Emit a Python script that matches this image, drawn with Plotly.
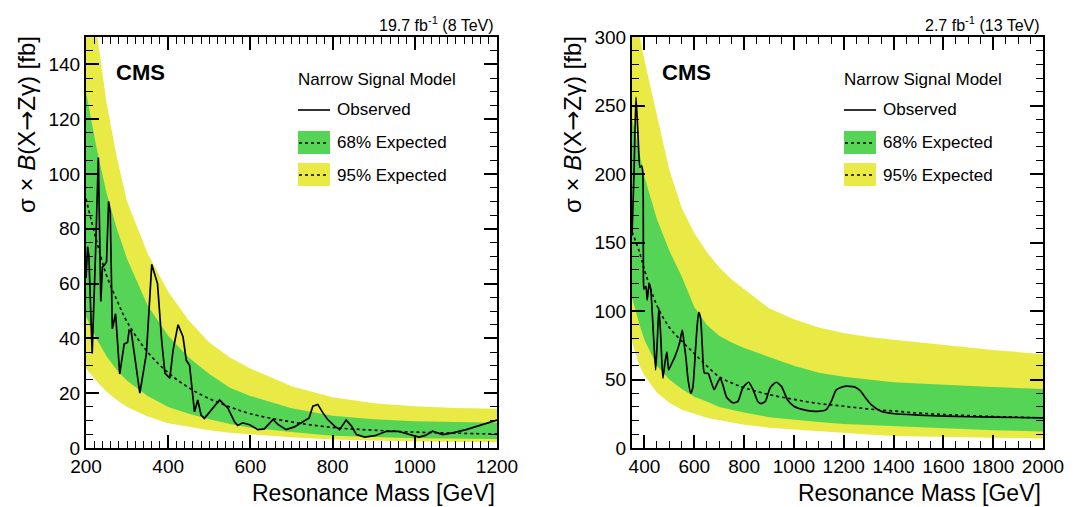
import plotly.graph_objects as go

# ---------------- data: left panel (8 TeV) ----------------
band8_m = [200, 225, 250, 275, 300, 350, 400, 450, 500, 550, 600, 700, 800, 900, 1000, 1100, 1200]
band8_y_up = [180, 152, 126, 106, 90, 71, 57, 46.5, 38.5, 33, 29, 22.5, 18.5, 16.3, 15.2, 14.6, 14.3]
band8_g_up = [130, 110, 93, 80, 69, 52, 41, 33, 27, 22, 19, 14.5, 11.8, 10.5, 9.8, 9.4, 9.2]
exp8 = [91, 76, 63, 54, 46, 35, 27.5, 22, 18, 15, 12.5, 9.5, 7.5, 6.5, 5.8, 5.4, 5.1]
band8_g_lo = [48, 40, 33.5, 28.5, 24.5, 19, 15, 12.5, 10.5, 8.8, 7.4, 5.8, 4.5, 4.0, 3.6, 3.4, 3.3]
band8_y_lo = [29, 24.5, 20.5, 17.5, 15, 11.5, 9, 7.8, 6.5, 5.6, 4.9, 3.9, 3.1, 2.7, 2.4, 2.2, 2.1]

obs8_m = [200, 204, 207, 215, 223, 230, 236, 240, 246, 250, 255, 259, 264, 272, 282,
          293, 301, 305, 310, 331, 347, 360, 374, 384, 392, 404, 412, 424, 436, 444,
          452, 464, 472, 480, 488, 525, 545, 561, 569, 581, 598, 618, 634, 655, 667,
          687, 707, 723, 743, 752, 764, 776, 788, 805, 817, 833, 846, 858, 878, 903,
          931, 959, 985, 1010, 1026, 1043, 1068, 1092, 1125, 1165, 1197, 1200]
obs8 = [62, 73.5, 70, 34.5, 70, 106, 53.5, 66, 67, 68, 90, 86, 43.5, 49, 27,
        38, 38.5, 43, 42.5, 20, 34.5, 67, 60, 39.4, 27.3, 25.5, 35.8, 45, 40.6, 32,
        30.2, 13.2, 17.5, 12, 10.8, 17.5, 14.6, 9.7, 8.2, 9.2, 8.5, 6.7, 7.0, 10.4, 8.6,
        6.7, 7.7, 9.2, 11, 15.3, 15.9, 12.9, 10.4, 8, 6.7, 10.2, 8, 4.9, 4.0, 4.5,
        6.1, 6.1, 4.9, 4.0, 4.6, 6.1, 4.9, 5.5, 6.7, 8.5, 10.1, 10.2]

# ---------------- data: right panel (13 TeV) ----------------
band13_m = [350, 380, 400, 450, 500, 550, 600, 650, 700, 750, 800, 900, 1000, 1100,
            1200, 1300, 1400, 1500, 1600, 1800, 2000]
band13_y_up = [330, 300, 283, 243, 203, 175, 157, 143, 132, 123, 116, 102, 94, 88,
               84, 81, 79, 77, 75, 71.5, 68.5]
band13_g_up = [241, 215, 198, 167, 144, 125, 103, 90, 82, 77, 73, 66.5, 60, 55,
               52, 50, 48, 47, 46, 44.5, 43]
exp13 = [158, 143, 130, 104, 88, 78, 69, 60, 52, 47.5, 44, 39, 35.5, 32.5,
         30.5, 28.5, 27, 25.5, 24.5, 23, 22]
band13_g_lo = [110, 90, 79, 60, 50, 43, 37.5, 34, 30, 28, 26, 22.5, 20.5, 19,
               17.5, 16.5, 16, 15.5, 14.5, 13, 12]
band13_y_lo = [78, 60, 53, 40.5, 33, 28, 25, 22, 20.5, 18.5, 17, 14.8, 13.5, 12.5,
               11, 9.8, 8.8, 8.3, 8, 7.5, 7]

obs13_m = [350, 358, 366, 375, 382, 388, 393, 396, 398, 406, 411, 419, 425, 436, 445,
           452, 458, 465, 474, 482, 490, 497, 505, 523, 540, 552, 560, 567, 575, 586,
           594, 605, 612, 618, 625, 632, 640, 648, 656, 665, 680, 692, 704, 715, 730,
           755, 775, 795, 818, 835, 855, 868, 885, 905, 929, 950, 975, 1000, 1050, 1096,
           1130, 1150, 1170, 1203, 1243, 1265, 1290, 1310, 1350, 1404, 1500, 1605, 1800, 2000]
obs13 = [155, 200, 256, 225, 205, 206, 202, 123, 116, 118, 108, 120, 116, 83, 57,
         80, 102, 83, 51, 62, 70, 57, 60, 67, 76, 86, 75, 65, 50, 40,
         44, 72, 90, 99, 95, 75, 55, 54.5, 54.5, 50, 42.7, 47, 51, 46, 37,
         33, 34, 44, 48, 43, 34, 32.4, 34, 44, 48, 45, 35, 30.5, 27.5, 26.8,
         28, 34, 42.5, 45, 44.6, 42, 36, 31.7, 26.8, 25, 24, 23.2, 22.5, 22]

YELLOW = "#E9EA45"
GREEN = "#56D456"
FONT = "Liberation Sans"

# page is offset by the default body margin, so work in window pixels
OFF = 8
W, H = 1091 - OFF, 507 - OFF


def px(x):
    return (x - OFF) / W


def py(y):
    return 1 - (y - OFF) / H


fig = go.Figure()


def add_panel(m, yu, gu, ex, gl, yl, om, ov, xa, ya, shape):
    fig.add_trace(go.Scatter(x=m + m[::-1], y=yu + yl[::-1], fill="toself",
                             fillcolor=YELLOW, line=dict(width=0), mode="lines",
                             hoverinfo="skip", showlegend=False, xaxis=xa, yaxis=ya))
    fig.add_trace(go.Scatter(x=m + m[::-1], y=gu + gl[::-1], fill="toself",
                             fillcolor=GREEN, line=dict(width=0), mode="lines",
                             hoverinfo="skip", showlegend=False, xaxis=xa, yaxis=ya))
    fig.add_trace(go.Scatter(x=m, y=ex, mode="lines",
                             line=dict(color="black", width=1.6, dash="dot", shape="spline"),
                             showlegend=False, xaxis=xa, yaxis=ya))
    fig.add_trace(go.Scatter(x=om, y=ov, mode="lines",
                             line=dict(color="black", width=1.7, shape=shape, smoothing=0.6),
                             showlegend=False, xaxis=xa, yaxis=ya))


add_panel(band8_m, band8_y_up, band8_g_up, exp8, band8_g_lo, band8_y_lo,
          obs8_m, obs8, "x", "y", "linear")
add_panel(band13_m, band13_y_up, band13_g_up, exp13, band13_g_lo, band13_y_lo,
          obs13_m, obs13, "x2", "y2", "spline")

ydom = [py(448), py(37)]

axis_common = dict(showline=True, linecolor="black", linewidth=2, mirror="ticks",
                   ticks="inside", ticklen=13, tickwidth=1.5, tickcolor="black",
                   showgrid=False, zeroline=False, automargin=False,
                   tickfont=dict(family=FONT, size=19, color="black"))

minor_common = dict(tick0=0, ticklen=7, ticks="inside", tickcolor="black", tickwidth=1)

fig.update_layout(
    width=W, height=H,
    margin=dict(l=0, r=0, t=0, b=0, autoexpand=False),
    paper_bgcolor="white", plot_bgcolor="white",
    showlegend=False,
    xaxis=dict(domain=[px(86), px(497)], range=[200, 1200], tick0=0, dtick=200,
               anchor="y", minor=dict(dtick=20, **minor_common), **axis_common),
    yaxis=dict(domain=ydom, range=[0, 150], tick0=0, dtick=20, anchor="x",
               minor=dict(dtick=5, **minor_common), **axis_common),
    xaxis2=dict(domain=[px(632), px(1043)], range=[350, 2000], tick0=0, dtick=200,
                anchor="y2", minor=dict(dtick=50, **minor_common), **axis_common),
    yaxis2=dict(domain=ydom, range=[0, 300], tick0=0, dtick=50, anchor="x2",
                minor=dict(dtick=10, **minor_common), **axis_common),
)

ann = []
shapes = []

YTITLE = ("σ × <i>B</i>(X<span style=\"font-family:'DejaVu Sans'\">→</span>Zγ) [fb]")


def decorate(off, lumi, x_right):
    tf = dict(family=FONT, color="black")
    ann.append(dict(text=YTITLE, textangle=-90, x=px(27 + off), y=py(125),
                    xref="paper", yref="paper", xanchor="center", yanchor="middle",
                    showarrow=False, font=dict(size=24, **tf)))
    ann.append(dict(text="Resonance Mass [GeV]", x=px(x_right), y=py(493), xref="paper",
                    yref="paper", xanchor="right", yanchor="middle", showarrow=False,
                    font=dict(size=23, **tf)))
    ann.append(dict(text=lumi, x=px(x_right - 1), y=py(24), xref="paper", yref="paper",
                    xanchor="right", yanchor="middle", showarrow=False, font=dict(size=16, **tf)))
    ann.append(dict(text="<b>CMS</b>", x=px(114 + off), y=py(72), xref="paper", yref="paper",
                    xanchor="left", yanchor="middle", showarrow=False, font=dict(size=22, **tf)))
    lx0, lx1, tx = 298 + off, 330 + off, 335 + off
    ann.append(dict(text="Narrow Signal Model", x=px(296 + off), y=py(79), xref="paper",
                    yref="paper", xanchor="left", yanchor="middle", showarrow=False,
                    font=dict(size=17, **tf)))
    for txt, yy in [("Observed", 110), ("68% Expected", 143), ("95% Expected", 175)]:
        ann.append(dict(text=txt, x=px(tx), y=py(yy), xref="paper", yref="paper",
                        xanchor="left", yanchor="middle", showarrow=False,
                        font=dict(size=17, **tf)))
    shapes.append(dict(type="line", xref="paper", yref="paper", x0=px(lx0), x1=px(lx1),
                       y0=py(110), y1=py(110), line=dict(color="black", width=1.6)))
    shapes.append(dict(type="rect", xref="paper", yref="paper", x0=px(lx0), x1=px(lx1),
                       y0=py(154), y1=py(131), fillcolor=GREEN, line=dict(width=0)))
    shapes.append(dict(type="rect", xref="paper", yref="paper", x0=px(lx0), x1=px(lx1),
                       y0=py(186), y1=py(163), fillcolor=YELLOW, line=dict(width=0)))
    for yy in (143, 175):
        shapes.append(dict(type="line", xref="paper", yref="paper", x0=px(lx0 + 1),
                           x1=px(lx1 - 1), y0=py(yy), y1=py(yy),
                           line=dict(color="black", width=1.5, dash="dot")))


decorate(0, "19.7 fb<sup>-1</sup> (8 TeV)", 497)
decorate(546, "2.7 fb<sup>-1</sup> (13 TeV)", 1043)

fig.update_layout(annotations=ann, shapes=shapes)

fig.write_html("out.html")
